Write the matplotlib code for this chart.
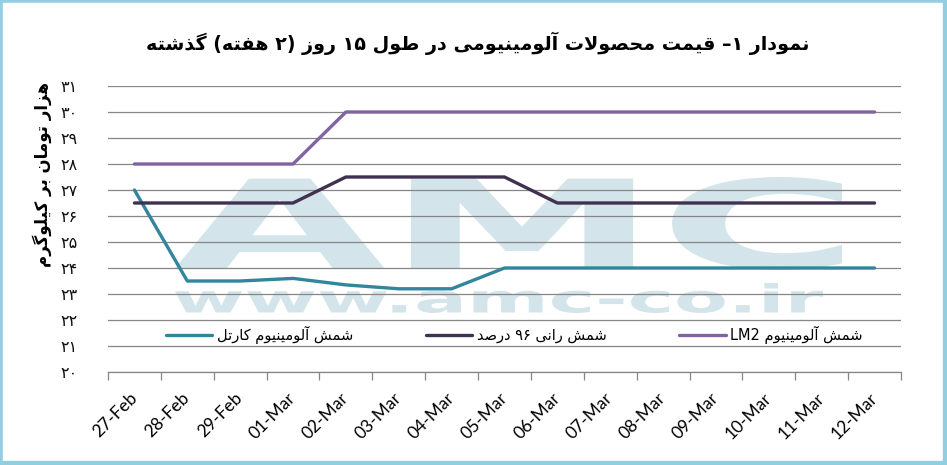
import matplotlib
matplotlib.use("Agg")
import matplotlib.pyplot as plt
from matplotlib.font_manager import FontProperties
from matplotlib.textpath import TextPath
from matplotlib.patches import PathPatch
from matplotlib.transforms import Affine2D
from matplotlib.lines import Line2D

# data
dates = ["27-Feb", "28-Feb", "29-Feb", "01-Mar", "02-Mar", "03-Mar", "04-Mar", "05-Mar",
         "06-Mar", "07-Mar", "08-Mar", "09-Mar", "10-Mar", "11-Mar", "12-Mar"]
cartel = [27, 23.5, 23.5, 23.6, 23.35, 23.2, 23.2, 24, 24, 24, 24, 24, 24, 24, 24]
rani96 = [26.5, 26.5, 26.5, 26.5, 27.5, 27.5, 27.5, 27.5, 26.5, 26.5, 26.5, 26.5, 26.5, 26.5, 26.5]
lm2 = [28, 28, 28, 28, 30, 30, 30, 30, 30, 30, 30, 30, 30, 30, 30]
yticks = list(range(20, 32))

series_names = ["شمش آلومینیوم کارتل", "شمش رانی ۹۶ درصد", "شمش آلومینیوم LM2"]
title_fa = "نمودار ۱– قیمت محصولات آلومینیومی در طول ۱۵ روز (۲ هفته) گذشته"
ylabel_fa = "هزار تومان بر کیلوگرم"

# --- minimal persian shaping + right-to-left ordering (no bidi libs available)
DUAL = {'ب': 0xFE8F, 'ت': 0xFE95, 'ح': 0xFEA1, 'ش': 0xFEB5, 'ص': 0xFEB9, 'ط': 0xFEC1,
        'ف': 0xFED1, 'ق': 0xFED5, 'ل': 0xFEDD, 'م': 0xFEE1, 'ن': 0xFEE5, 'ه': 0xFEE9,
        'ک': 0xFB8E, 'گ': 0xFB92, 'ی': 0xFBFC}
RIGHT = {'ا': 0xFE8D, 'آ': 0xFE81, 'د': 0xFEA9, 'ذ': 0xFEAB, 'ر': 0xFEAD, 'ز': 0xFEAF,
         'و': 0xFEED}
LTR = set("0123456789ABCDEFGHIJKLMNOPQRSTUVWXYZabcdefghijklmnopqrstuvwxyz۰۱۲۳۴۵۶۷۸۹")
MIRROR = {'(': ')', ')': '('}
FA_DIGITS = str.maketrans("0123456789", "۰۱۲۳۴۵۶۷۸۹")


def shape(s):
    out = []
    i = 0
    while i < len(s):
        c = s[i]
        if c not in DUAL and c not in RIGHT:
            out.append(c)
            i += 1
            continue
        jp = i > 0 and s[i - 1] in DUAL
        if c == 'ل' and i + 1 < len(s) and s[i + 1] in 'اآ':
            base = 0xFEFB if s[i + 1] == 'ا' else 0xFEF5
            out.append(chr(base + (1 if jp else 0)))
            i += 2
            continue
        nxt = s[i + 1] if i + 1 < len(s) else ''
        jn = c in DUAL and (nxt in DUAL or nxt in RIGHT)
        base = DUAL.get(c, RIGHT.get(c))
        off = 3 if (jp and jn) else 2 if jn else 1 if jp else 0
        out.append(chr(base + off))
        i += 1
    return ''.join(out)


def rtl(s):
    tokens = []
    for c in shape(s):
        if c in LTR and tokens and tokens[-1][0] in LTR:
            tokens[-1] += c
        else:
            tokens.append(c)
    return ''.join(MIRROR.get(t, t) for t in reversed(tokens))


W, H = 947, 465
fig = plt.figure(figsize=(W / 100, H / 100), dpi=100)
fig.patch.set_facecolor('white')
ax = fig.add_axes([108 / W, 1 - 372 / H, (901 - 108) / W, (372 - 86) / H])


def px(x, y):
    return x / W, 1 - y / H


# watermark drawn as scaled text paths
def watermark(text, x0, y0, x1, y1):
    tp = TextPath((0, 0), text, size=100, prop=FontProperties(family='DejaVu Sans', weight='bold'))
    ext = tp.get_extents()
    fx0, fy1 = px(x0, y0)
    fx1, fy0 = px(x1, y1)
    tr = (Affine2D().translate(-ext.x0, -ext.y0)
          .scale((fx1 - fx0) / ext.width, (fy1 - fy0) / ext.height)
          .translate(fx0, fy0) + fig.transFigure)
    ax.add_patch(PathPatch(tp, transform=tr, color='#d3e4ea', lw=0, zorder=0.5, clip_on=False))


watermark("AMC", 175, 177, 842, 270)
watermark("www.amc-co.ir", 175, 283, 823, 313)

colors = ['#31859c', '#403151', '#8064a2']
x = list(range(len(dates)))
for vals, name, col in zip([cartel, rani96, lm2], series_names, colors):
    ax.plot(x, vals, color=col, lw=2.4, solid_capstyle='round', solid_joinstyle='round',
            label=rtl(name), zorder=3)

ax.set_xlim(-0.5, len(dates) - 0.5)
ax.set_ylim(20, 31)
ax.set_yticks(yticks)
ax.set_yticklabels([str(v).translate(FA_DIGITS) for v in yticks], family='DejaVu Sans', fontsize=11.5)
ax.yaxis.grid(True, color='#868686', lw=0.9)
ax.tick_params(axis='y', length=0, pad=22, colors='#111111')
for s in ['left', 'right', 'top']:
    ax.spines[s].set_visible(False)
ax.spines['bottom'].set_color('#868686')
ax.spines['bottom'].set_linewidth(0.9)

ax.set_xticks(x)
ax.set_xticklabels(dates, rotation=45, ha='right', va='center', rotation_mode='anchor',
                   family='Lato', fontsize=12.5)
ax.set_xticks([i - 0.5 for i in range(len(dates) + 1)], minor=True)
ax.tick_params(axis='x', which='major', length=0, pad=17)
ax.tick_params(axis='x', which='minor', length=6, color='#868686', width=0.9)

leg = ax.legend(loc='center left', bbox_to_anchor=(0.056, 0.13), ncol=3, frameon=False,
                prop=FontProperties(family='DejaVu Sans', size=10.5),
                handlelength=3.2, handletextpad=0.3, columnspacing=5.0)

fig.text(42 / W, 1 - 174 / H, rtl(ylabel_fa), rotation=90, ha='center', va='center',
         family='DejaVu Sans', weight='bold', fontsize=12)
fig.text(478 / W, 1 - 43 / H, rtl(title_fa), ha='center', va='center',
         family='DejaVu Sans', weight='bold', fontsize=13.8)

# light blue frame round the picture
bc = '#93cde0'
fig.add_artist(Line2D([0, 1], [1, 1], transform=fig.transFigure, color=bc, lw=4))
fig.add_artist(Line2D([0, 0], [0, 1], transform=fig.transFigure, color=bc, lw=4))
fig.add_artist(Line2D([1, 1], [0, 1], transform=fig.transFigure, color=bc, lw=6))
fig.add_artist(Line2D([0, 1], [0, 0], transform=fig.transFigure, color=bc, lw=6))

fig.savefig("out.png", dpi=100)
